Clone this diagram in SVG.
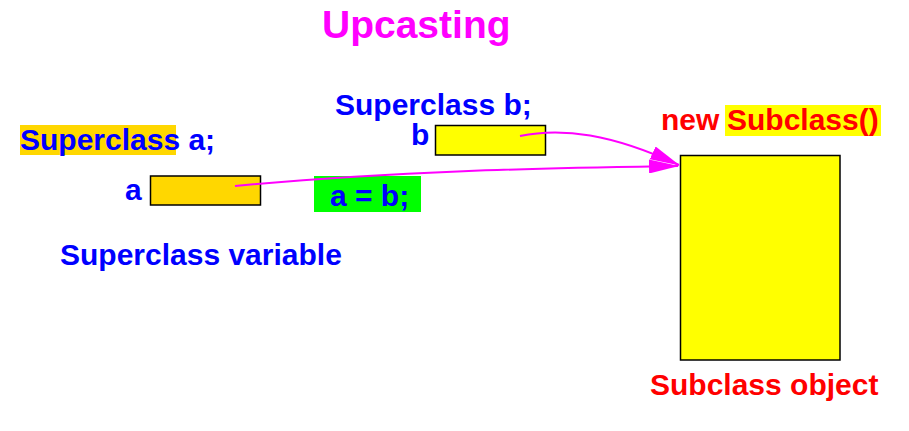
<svg xmlns="http://www.w3.org/2000/svg" width="909" height="431" viewBox="0 0 909 431">
<style>
text{font-family:"Liberation Sans",Arial,sans-serif;font-weight:bold;font-size:30px}
.blue{fill:#0000ff}
.red{fill:#ff0000}
.box{stroke:#000;stroke-width:1.5}
.conn{fill:none;stroke:#ff00ff;stroke-width:2}
</style>
<defs>
<marker id="ah" viewBox="0 0 30 14" refX="29" refY="7" markerWidth="30" markerHeight="14" markerUnits="userSpaceOnUse" orient="auto">
<path d="M0,0 L30,7 L0,14 z" fill="#ff00ff"/>
</marker>
</defs>
<rect width="909" height="431" fill="#fff"/>
<g id="title"><text x="322" y="38" font-size="39" style="font-size:39px;fill:#ff00ff">Upcasting</text></g>
<g id="decl-a">
<rect x="20" y="125" width="156" height="30" fill="#ffd700"/>
<text class="blue" x="20" y="150">Superclass a;</text>
</g>
<g id="var-a">
<text class="blue" x="125" y="200">a</text>
<rect class="box" x="150.5" y="176" width="110" height="29" fill="#ffd700"/>
</g>
<g id="decl-b"><text class="blue" x="335" y="115">Superclass b;</text></g>
<g id="var-b">
<text class="blue" x="411" y="145">b</text>
<rect class="box" x="435.5" y="125.5" width="110" height="29.5" fill="#ffff00"/>
</g>
<g id="assign">
<rect x="314" y="176" width="107" height="36" fill="#00ff00"/>
<text class="blue" x="330" y="206">a = b;</text>
</g>
<g id="label-var"><text class="blue" x="60" y="265">Superclass variable</text></g>
<g id="new-sub">
<rect x="725" y="105" width="156" height="31" fill="#ffff00"/>
<text class="red" x="661" y="130">new <tspan x="727">Subclass()</tspan></text>
</g>
<g id="object">
<rect class="box" x="680.5" y="155.5" width="159.5" height="204.5" fill="#ffff00"/>
<text class="red" x="650" y="395">Subclass object</text>
</g>
<g id="connectors">
<path class="conn" d="M520,136 C562,127 612,134 679,165" marker-end="url(#ah)"/>
<path class="conn" d="M235,186 C400,170 560,168 678,166" marker-end="url(#ah)"/>
</g>
</svg>
